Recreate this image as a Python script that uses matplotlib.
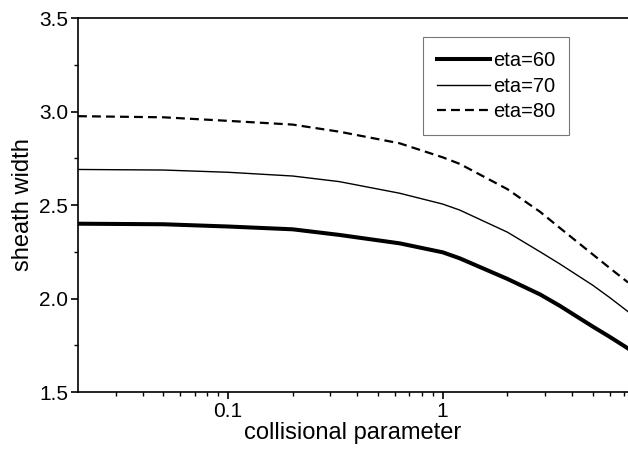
import numpy as np
import matplotlib.pyplot as plt
from matplotlib.ticker import FixedLocator, MultipleLocator, NullFormatter

plt.rcParams['font.family'] = ['Liberation Sans', 'DejaVu Sans']

# collisional parameter and sheath width
x = [0.02, 0.05, 0.1, 0.2, 0.33, 0.63, 1.0, 1.2, 2.0, 2.84, 3.5, 5.0, 6.0, 7.3]
eta60 = [2.40, 2.397, 2.385, 2.37, 2.34, 2.295, 2.247, 2.215, 2.105, 2.022, 1.962, 1.85, 1.795, 1.733]
eta70 = [2.69, 2.687, 2.675, 2.655, 2.625, 2.563, 2.505, 2.473, 2.355, 2.25, 2.186, 2.071, 2.005, 1.93]
eta80 = [2.975, 2.969, 2.95, 2.93, 2.892, 2.83, 2.755, 2.72, 2.585, 2.464, 2.379, 2.236, 2.163, 2.086]

fig = plt.figure(figsize=(6.28, 4.54), dpi=100)
ax = fig.add_axes([78/628, 1 - 392/454, 1 - 78/628, (392-18)/454])

ax.plot(x, eta60, color="black", lw=2.9, label="eta=60")
ax.plot(x, eta70, color="black", lw=1.0, label="eta=70")
ax.plot(x, eta80, color="black", lw=1.6, ls=(0, (4, 2.3)), label="eta=80")

ax.set_xscale("log")
ax.set_xlim(0.02, 7.3)
ax.set_ylim(1.5, 3.5)
ax.xaxis.set_major_locator(FixedLocator([0.1, 1]))
ax.set_xticklabels(["0.1", "1"])
ax.xaxis.set_minor_locator(FixedLocator([0.03, 0.04, 0.05, 0.06, 0.07, 0.08, 0.09,
                                         0.2, 0.3, 0.4, 0.5, 0.6, 0.7, 0.8, 0.9,
                                         2, 3, 4, 5, 6, 7]))
ax.xaxis.set_minor_formatter(NullFormatter())
ax.yaxis.set_major_locator(MultipleLocator(0.5))
ax.yaxis.set_minor_locator(MultipleLocator(0.25))
ax.yaxis.set_major_formatter(plt.FormatStrFormatter("%.1f"))

ax.tick_params(which="major", direction="out", length=5, width=1.2, labelsize=15, pad=2)
ax.tick_params(which="minor", direction="out", length=3, width=1.0)
ax.spines["right"].set_visible(False)
for s in ["left", "bottom", "top"]:
    ax.spines[s].set_linewidth(1.2)

ax.set_xlabel("collisional parameter", fontsize=17, labelpad=1)
ax.set_ylabel("sheath width", fontsize=17, labelpad=4)

leg = ax.legend(loc="upper right", bbox_to_anchor=((569 - 78)/550, 1 - 19/374),
                bbox_transform=ax.transAxes, fontsize=14.5, frameon=True, fancybox=False,
                edgecolor="#555555", handlelength=2.6, handletextpad=0.15,
                labelspacing=0.33, borderpad=0.7, borderaxespad=0)
leg.get_frame().set_linewidth(0.8)

fig.savefig("out.png", dpi=100)
